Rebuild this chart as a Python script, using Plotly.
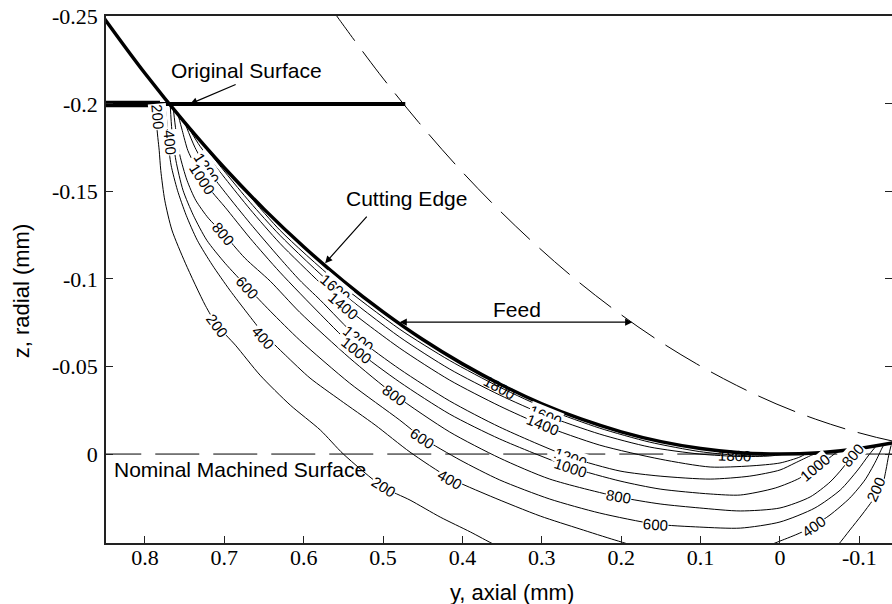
import plotly.graph_objects as go

# ---------------- data (y = axial mm, z = radial mm) ----------------
edge_y = [0.86, 0.85, 0.80, 0.75, 0.70, 0.65, 0.60, 0.55, 0.50, 0.45, 0.40, 0.35,
          0.30, 0.25, 0.20, 0.15, 0.10, 0.05, 0.0, -0.05, -0.10, -0.15]
edge_z = [-0.2545, -0.2481, -0.2175, -0.1894, -0.1635, -0.1399, -0.1184, -0.0988,
          -0.0812, -0.0654, -0.0515, -0.0393, -0.0287, -0.0199, -0.0127, -0.0071,
          -0.0032, -0.0008, 0.0, -0.0008, -0.0032, -0.0071]

feed_y = [0.565, 0.555, 0.505, 0.455, 0.405, 0.355, 0.305, 0.255, 0.205, 0.155,
          0.105, 0.055, 0.005, -0.045, -0.095, -0.145, -0.195]
feed_z = [-0.2545, -0.2481, -0.2175, -0.1894, -0.1635, -0.1399, -0.1184, -0.0988,
          -0.0812, -0.0654, -0.0515, -0.0393, -0.0287, -0.0199, -0.0127, -0.0071,
          -0.0032]

orig_y = [0.86, 0.472]
orig_z = [-0.2, -0.2]
orig_thick_y = [0.86, 0.781]
orig_thick_z = [-0.2, -0.2]

nominal_y = [0.86, -0.15]
nominal_z = [0.0, 0.0]

c200_y = [0.783, 0.785, 0.782, 0.780, 0.775, 0.766, 0.749, 0.724, 0.709, 0.686, 0.655,
          0.617, 0.579, 0.550, 0.500, 0.466, 0.428, 0.390, 0.359, 0.290, 0.164, 0.038,
          -0.038, -0.073, -0.088, -0.103, -0.117, -0.1285, -0.1335, -0.137, -0.140]
c200_z = [-0.200, -0.188, -0.1735, -0.162, -0.145, -0.128, -0.109, -0.085, -0.0736,
          -0.0622, -0.0451, -0.0280, -0.0137, 0.0, 0.0188, 0.0263, 0.0360, 0.0445,
          0.0519, 0.0662, 0.0776, 0.0788, 0.069, 0.052, 0.0434, 0.0348, 0.0263,
          0.0188, 0.0091, 0.0006, -0.005]

c400_y = [0.775, 0.772, 0.771, 0.767, 0.759, 0.748, 0.734, 0.715, 0.693, 0.671, 0.651,
          0.623, 0.592, 0.554, 0.510, 0.466, 0.416, 0.365, 0.302, 0.252, 0.208, 0.164,
          0.101, 0.038, 0.0, -0.025, -0.042, -0.063, -0.088, -0.107, -0.120, -0.1285,
          -0.132]
c400_z = [-0.1998, -0.188, -0.179, -0.165, -0.1507, -0.1364, -0.1221, -0.1079, -0.0936,
          -0.0805, -0.0691, -0.0565, -0.0434, -0.0308, -0.0166, -0.0011, 0.0137, 0.0240,
          0.0354, 0.0428, 0.0491, 0.0548, 0.0588, 0.056, 0.0497, 0.0451, 0.0411, 0.0348,
          0.0251, 0.0148, 0.0046, -0.0034, -0.0063]

c600_y = [0.768, 0.766, 0.761, 0.752, 0.739, 0.722, 0.699, 0.671, 0.642, 0.605, 0.542,
          0.479, 0.450, 0.403, 0.353, 0.290, 0.227, 0.157, 0.101, 0.050, 0.0, -0.044,
          -0.076, -0.098, -0.111, -0.120]
c600_z = [-0.1986, -0.1849, -0.1678, -0.1507, -0.1364, -0.1221, -0.1090, -0.0953, -0.0816,
          -0.0651, -0.0405, -0.0194, -0.0091, 0.0034, 0.0148, 0.0257, 0.0337, 0.0400,
          0.0417, 0.0423, 0.0388, 0.0308, 0.0205, 0.0091, 0.0011, -0.0040]

c800_y = [0.764, 0.761, 0.756, 0.747, 0.736, 0.720, 0.7015, 0.674, 0.642, 0.605, 0.542,
          0.485, 0.416, 0.353, 0.290, 0.203, 0.151, 0.101, 0.050, 0.0, -0.038, -0.063,
          -0.079, -0.091, -0.103]
c800_z = [-0.1963, -0.1849, -0.1707, -0.1564, -0.1450, -0.1347, -0.1261, -0.1119, -0.0987,
          -0.0810, -0.0548, -0.0337, -0.0126, 0.0023, 0.0143, 0.0245, 0.0285, 0.0308,
          0.0325, 0.0308, 0.0245, 0.0160, 0.0080, 0.0006, -0.0040]

c1000_y = [0.758, 0.753, 0.746, 0.737, 0.728, 0.715, 0.699, 0.6675, 0.630, 0.579, 0.533,
           0.479, 0.416, 0.353, 0.2645, 0.2015, 0.151, 0.088, 0.050, 0.006, -0.025,
           -0.044, -0.060, -0.073]
c1000_z = [-0.1935, -0.1849, -0.1735, -0.1650, -0.1575, -0.1495, -0.1410, -0.1233, -0.1039,
           -0.0799, -0.0594, -0.0411, -0.0228, -0.0086, 0.0074, 0.0154, 0.0200, 0.0228,
           0.0234, 0.0194, 0.0137, 0.0074, 0.0029, -0.0017]

c1200_y = [0.749, 0.737, 0.722, 0.699, 0.6675, 0.630, 0.605, 0.579, 0.5315, 0.479, 0.416,
           0.353, 0.2645, 0.2015, 0.151, 0.088, 0.038, 0.0, -0.019, -0.040, -0.048]
c1200_z = [-0.1884, -0.1752, -0.1632, -0.1495, -0.1318, -0.1119, -0.0993, -0.0879, -0.0662,
           -0.0485, -0.0303, -0.0154, 0.0017, 0.0097, 0.0126, 0.0143, 0.0126, 0.0091,
           0.0051, 0.0006, -0.0007]

c1400_y = [0.743, 0.7305, 0.699, 0.6675, 0.630, 0.579, 0.5504, 0.479, 0.416, 0.353, 0.2997,
           0.227, 0.151, 0.088, 0.038, 0.0, -0.025, -0.033]
c1400_z = [-0.1849, -0.1758, -0.1575, -0.1398, -0.1204, -0.0976, -0.0850, -0.0605, -0.0422,
           -0.0274, -0.0166, -0.0051, 0.0029, 0.0074, 0.0068, 0.0051, 0.0017, -0.0003]

c1600_y = [0.733, 0.699, 0.6675, 0.630, 0.5605, 0.479, 0.416, 0.353, 0.296, 0.227, 0.164,
           0.101, 0.050, 0.013, -0.006]
c1600_z = [-0.1804, -0.1610, -0.1438, -0.1250, -0.0953, -0.0668, -0.0485, -0.0337, -0.0223,
           -0.0114, -0.0040, 0.0, 0.0014, 0.0011, 0.0]

c1800_y = [0.680, 0.630, 0.5605, 0.479, 0.416, 0.353, 0.290, 0.227, 0.164, 0.101, 0.057,
           0.025, 0.006]
c1800_z = [-0.1538, -0.1279, -0.0993, -0.0713, -0.0534, -0.0382, -0.0251, -0.0148, -0.0068,
           -0.0014, 0.0006, 0.0010, 0.0]

label_text = ["200", "400", "1200", "1000", "800", "600", "200", "400", "1600", "1400",
              "1200", "1000", "800", "600", "200", "400", "1800", "1600", "1400", "1200",
              "1000", "800", "600", "1800", "1000", "800", "400", "200"]
label_y = [0.7834, 0.768, 0.722, 0.728, 0.7015, 0.671, 0.709, 0.651, 0.5605, 0.5504,
           0.5315, 0.533, 0.485, 0.450, 0.500, 0.416, 0.353, 0.296, 0.2997, 0.2645,
           0.2645, 0.203, 0.157, 0.057, -0.044, -0.091, -0.042, -0.121]
label_z = [-0.1929, -0.1781, -0.1632, -0.1575, -0.1261, -0.0953, -0.0736, -0.0668, -0.0953,
           -0.0850, -0.0662, -0.0594, -0.0337, -0.0091, 0.0188, 0.0148, -0.0382, -0.0223,
           -0.0166, 0.0017, 0.0074, 0.0245, 0.0400, 0.0006, 0.0074, 0.0006, 0.0411, 0.0205]
label_angle = [85, 85, 57, 57, 50, 48, 53, 48, 40, 40, 38, 38, 36, 33, 32, 30, 28, 22, 22,
               20, 18, 10, 4, 2, -40, -48, -35, -66]

x_tick_vals = [0.8, 0.7, 0.6, 0.5, 0.4, 0.3, 0.2, 0.1, 0.0, -0.1]
x_tick_text = ["0.8", "0.7", "0.6", "0.5", "0.4", "0.3", "0.2", "0.1", "0", "-0.1"]
y_tick_vals = [-0.25, -0.2, -0.15, -0.1, -0.05, 0.0]
y_tick_text = ["-0.25", "-0.2", "-0.15", "-0.1", "-0.05", "0"]

# ---------------- figure ----------------
fig = go.Figure()

contours = [(c200_y, c200_z), (c400_y, c400_z), (c600_y, c600_z), (c800_y, c800_z),
            (c1000_y, c1000_z), (c1200_y, c1200_z), (c1400_y, c1400_z),
            (c1600_y, c1600_z), (c1800_y, c1800_z)]
for cy, cz in contours:
    fig.add_trace(go.Scatter(x=cy, y=cz, mode="lines",
                             line=dict(color="black", width=1, shape="spline", smoothing=0.7),
                             hoverinfo="skip", showlegend=False))

fig.add_trace(go.Scatter(x=nominal_y, y=nominal_z, mode="lines", yaxis="y2",
                         line=dict(color="black", width=1, dash="44px,14px"),
                         hoverinfo="skip", showlegend=False))
fig.add_trace(go.Scatter(x=feed_y, y=feed_z, mode="lines",
                         line=dict(color="black", width=1, dash="40px,13px", shape="spline"),
                         hoverinfo="skip", showlegend=False))
fig.add_trace(go.Scatter(x=orig_y, y=orig_z, mode="lines",
                         line=dict(color="black", width=4),
                         hoverinfo="skip", showlegend=False))
fig.add_trace(go.Scatter(x=orig_thick_y, y=orig_thick_z, mode="lines",
                         line=dict(color="black", width=6.5),
                         hoverinfo="skip", showlegend=False))
fig.add_trace(go.Scatter(x=edge_y, y=edge_z, mode="lines",
                         line=dict(color="black", width=3.5, shape="spline"),
                         hoverinfo="skip", showlegend=False))

lab_font = dict(family="Liberation Sans, Arial, sans-serif", size=15, color="black")
for t, lx, lz, a in zip(label_text, label_y, label_z, label_angle):
    bg = "rgba(0,0,0,0)" if t == "1800" else "white"
    fig.add_annotation(x=lx, y=lz, text=t, textangle=a, showarrow=False,
                       font=lab_font, bgcolor=bg, borderpad=0)

txt_font = dict(family="Liberation Sans, Arial, sans-serif", size=21, color="black")
fig.add_annotation(x=0.6725, y=-0.2192, text="Original Surface", showarrow=False, font=txt_font)
fig.add_annotation(x=0.743, y=-0.2, ax=47, ay=-20, text="", showarrow=True,
                   arrowhead=2, arrowsize=1.2, arrowwidth=1.2, arrowcolor="black", standoff=0)
fig.add_annotation(x=0.470, y=-0.1461, text="Cutting Edge", showarrow=False, font=txt_font)
fig.add_annotation(x=0.573, y=-0.109, ax=43, ay=-48, text="", showarrow=True,
                   arrowhead=2, arrowsize=1.2, arrowwidth=1.2, arrowcolor="black", standoff=0)
fig.add_annotation(x=0.331, y=-0.0827, text="Feed", showarrow=False, font=txt_font)
fig.add_annotation(x=0.186, y=-0.0753, ax=0.481, ay=-0.0753, axref="x", ayref="y",
                   text="", showarrow=True, arrowside="end+start", arrowhead=2,
                   startarrowhead=2, arrowsize=1.2, startarrowsize=1.2, arrowwidth=1.2,
                   arrowcolor="black", standoff=0, startstandoff=0)
fig.add_annotation(x=0.841, y=0.0091, text="Nominal Machined Surface", showarrow=False,
                   xanchor="left", font=txt_font)

title_font = dict(family="Liberation Sans, Arial, sans-serif", size=22, color="black")
fig.add_annotation(xref="paper", yref="paper", x=0.5165, y=-0.093, text="y, axial (mm)",
                   showarrow=False, font=title_font, xanchor="center", yanchor="middle")
fig.add_annotation(xref="paper", yref="paper", x=-0.108, y=0.478, text="z, radial (mm)",
                   showarrow=False, font=title_font, textangle=-90,
                   xanchor="center", yanchor="middle")

tick_font = dict(family="Liberation Serif, DejaVu Serif, serif", size=22, color="black")
yr = [0.0508, -0.2502]
fig.update_layout(
    width=892, height=604,
    margin=dict(l=106, r=0, t=16, b=61),
    plot_bgcolor="white", paper_bgcolor="white", showlegend=False,
    xaxis=dict(range=[0.849, -0.1411], tickvals=x_tick_vals, ticktext=x_tick_text,
               ticks="inside", ticklen=7, tickwidth=1.2, tickcolor="#222",
               showline=True, linecolor="#222", linewidth=1.5, mirror=True,
               showgrid=False, zeroline=False, tickfont=tick_font, ticklabelstandoff=-6),
    yaxis=dict(range=yr, tickvals=y_tick_vals, ticktext=y_tick_text,
               ticks="inside", ticklen=7, tickwidth=1.2, tickcolor="#222",
               showline=True, linecolor="#222", linewidth=1.5, mirror=False,
               showgrid=False, zeroline=False, tickfont=tick_font, ticklabelstandoff=2),
    yaxis2=dict(range=yr, overlaying="y", side="right", tickvals=y_tick_vals,
                ticks="inside", ticklen=7, tickwidth=1.2, tickcolor="#222",
                showticklabels=False, showline=False, showgrid=False, zeroline=False),
)

fig.write_html("out.html")
